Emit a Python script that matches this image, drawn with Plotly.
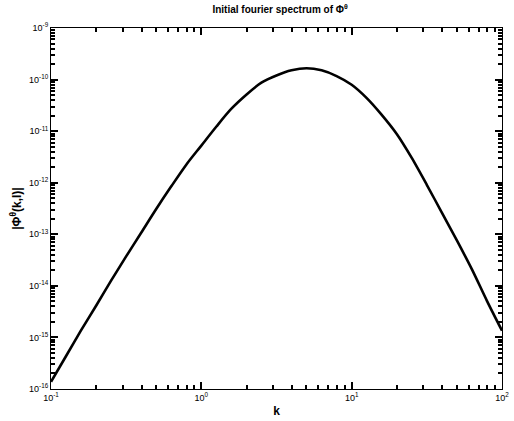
import plotly.graph_objects as go

# Wavenumber k and spectrum amplitude |Phi^theta(k,l)|
k_values = [0.1, 0.126, 0.158, 0.2, 0.251, 0.316, 0.398, 0.501, 0.631, 0.794,
            1.0, 1.26, 1.58, 2.0, 2.51, 3.16, 3.98, 5.01, 6.31, 7.94,
            10.0, 12.6, 15.8, 20.0, 25.1, 31.6, 39.8, 50.1, 63.1, 79.4, 100.0]
amplitude = [1.38e-16, 4.37e-16, 1.35e-15, 4.17e-15, 1.26e-14, 3.72e-14,
             1.07e-13, 3.09e-13, 8.51e-13, 2.24e-12, 5.25e-12, 1.23e-11,
             2.69e-11, 5.13e-11, 8.71e-11, 1.20e-10, 1.51e-10, 1.66e-10,
             1.51e-10, 1.17e-10, 7.94e-11, 4.37e-11, 2.09e-11, 8.71e-12,
             3.02e-12, 9.12e-13, 2.63e-13, 7.59e-14, 2.09e-14, 5.13e-15,
             1.35e-15]

x_tickvals = [0.1, 1, 10, 100]
x_ticktext = ["10<sup>-1</sup>", "10<sup>0</sup>", "10<sup>1</sup>", "10<sup>2</sup>"]
y_tickvals = [1e-16, 1e-15, 1e-14, 1e-13, 1e-12, 1e-11, 1e-10, 1e-9]
y_ticktext = ["10<sup>-16</sup>", "10<sup>-15</sup>", "10<sup>-14</sup>", "10<sup>-13</sup>",
              "10<sup>-12</sup>", "10<sup>-11</sup>", "10<sup>-10</sup>", "10<sup>-9</sup>"]

title_text = "Initial fourier spectrum of Φ<sup>θ</sup>"
x_title = "k"
y_title = "|Φ<sup>θ</sup>(k,l)|"

x_minor = [m * 10.0 ** e for e in (-1, 0, 1) for m in range(2, 10)]
y_minor = [m * 10.0 ** e for e in range(-16, -9) for m in range(2, 10)]

fig = go.Figure()
fig.add_trace(go.Scatter(
    x=k_values, y=amplitude, mode="lines",
    line=dict(color="black", width=2.6, shape="spline", smoothing=0.8),
    showlegend=False, hoverinfo="skip",
))
fig.add_trace(go.Scatter(
    x=k_values, y=amplitude, mode="lines", xaxis="x2", yaxis="y2",
    line=dict(color="rgba(0,0,0,0)", width=0), showlegend=False, hoverinfo="skip",
))

font_tick = dict(family="Liberation Sans, Arial", size=9, color="black")
font_title = dict(family="Liberation Sans, Arial", size=12, color="black")

fig.update_layout(
    width=514, height=421,
    margin=dict(l=51, r=5, t=28, b=32),
    paper_bgcolor="white", plot_bgcolor="white",
    title=dict(text="<b>" + title_text + "</b>", x=0.545, xanchor="center",
               y=0.985, yanchor="top",
               font=dict(family="Liberation Sans, Arial", size=10, color="black")),
    xaxis=dict(type="log", range=[-1, 2], tickvals=x_tickvals, ticktext=x_ticktext,
               ticks="inside", ticklen=7, tickwidth=2, tickcolor="black",
               showline=True, linecolor="black", mirror="ticks",
               ticklabeloverflow="allow", showgrid=False, zeroline=False,
               tickfont=font_tick,
               title=dict(text="<b>" + x_title + "</b>", standoff=4, font=font_title)),
    yaxis=dict(type="log", range=[-16, -9], tickvals=y_tickvals, ticktext=y_ticktext,
               ticks="inside", ticklen=7, tickwidth=2, tickcolor="black",
               showline=True, linecolor="black", mirror="ticks",
               showgrid=False, zeroline=False, tickfont=font_tick,
               title=dict(text="<b>" + y_title + "</b>", standoff=4, font=font_title)),
    xaxis2=dict(type="log", range=[-1, 2], tickvals=x_minor, overlaying="x",
                anchor="y2", side="bottom", ticks="inside", ticklen=4, tickwidth=1.5,
                tickcolor="black", mirror="ticks", showticklabels=False,
                showgrid=False, zeroline=False, showline=False),
    yaxis2=dict(type="log", range=[-16, -9], tickvals=y_minor, overlaying="y",
                anchor="x2", side="left", ticks="inside", ticklen=4, tickwidth=1.5,
                tickcolor="black", mirror="ticks", showticklabels=False,
                showgrid=False, zeroline=False, showline=False),
)

fig.write_html("out.html")
